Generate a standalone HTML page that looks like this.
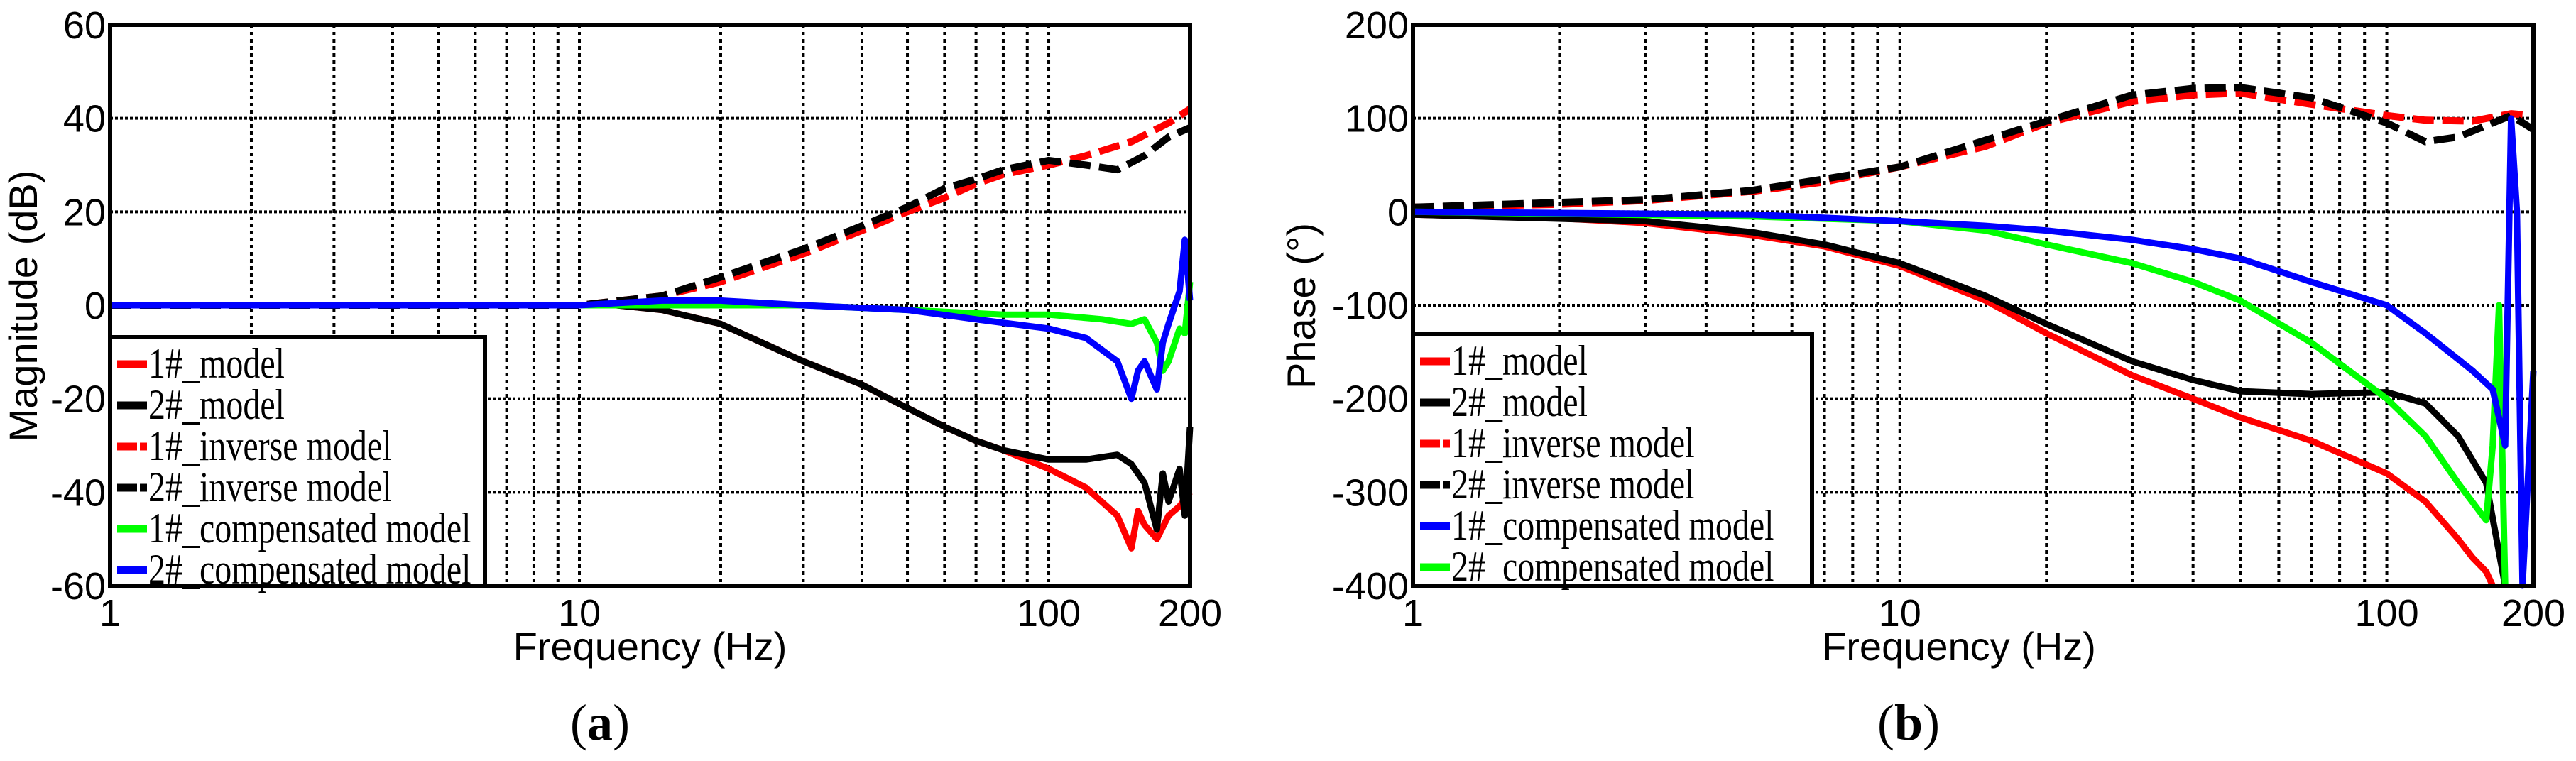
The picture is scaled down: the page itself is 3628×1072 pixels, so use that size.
<!DOCTYPE html>
<html><head><meta charset="utf-8">
<style>
html,body{margin:0;padding:0;background:#fff;}
svg{display:block;}
</style></head>
<body>
<svg id="fig" width="3628" height="1072" viewBox="0 0 3628 1072" xmlns="http://www.w3.org/2000/svg"></svg>
<script>
// ---------- Data ----------
const xTicks = [1, 10, 100, 200];
const xTickLabels = ["1", "10", "100", "200"];
const gridFreqs = [2,3,4,5,6,7,8,9,10,20,30,40,50,60,70,80,90,100];

const magTicks = [-60,-40,-20,0,20,40,60];
const phaseTicks = [-400,-300,-200,-100,0,100,200];

// Magnitude panel (a)
const magModel1F = [1,10,12,15,20,30,40,50,60,70,80,100,120,140,150,155,160,170,180,190,200];
const magModel1V = [0,0,0,-1,-4,-12,-17,-22,-26,-29,-31,-35,-39,-45,-52,-44,-47,-50,-45,-43,-40];
const magModel2F = [1,10,12,15,20,30,40,50,60,70,80,100,120,140,150,160,170,175,180,190,195,200];
const magModel2V = [0,0,0,-1,-4,-12,-17,-22,-26,-29,-31,-33,-33,-32,-34,-38,-48,-36,-42,-35,-45,-26];
const magInv1F = [1,10,15,20,30,40,50,60,70,80,100,120,150,180,200];
const magInv1V = [0,0,2,5,11,16,20,23,26,28,30,32,35,39,42];
const magInv2F = [1,10,15,20,30,40,50,60,70,80,100,120,140,160,180,200];
const magInv2V = [0,0,2,6,12,17,21,25,27,29,31,30,29,32,36,38];
const magComp1F = [1,10,20,30,50,80,100,130,150,160,170,175,180,190,195,200];
const magComp1V = [0,0,0,0,-1,-2,-2,-3,-4,-3,-8,-14,-12,-5,-6,5];
const magComp2F = [1,10,15,20,30,50,70,100,120,140,150,155,160,170,175,180,190,195,200];
const magComp2V = [0,0,1,1,0,-1,-3,-5,-7,-12,-20,-14,-12,-18,-8,-4,3,14,1];

// Phase panel (b)
const phModel1F = [1,2,3,5,7,10,15,20,30,40,50,70,100,120,140,150,160,165];
const phModel1V = [-3,-7,-12,-25,-37,-58,-95,-130,-175,-200,-220,-245,-280,-310,-350,-370,-385,-400];
const phModel2F = [1,3,5,7,10,15,20,30,40,50,70,100,120,140,160,175];
const phModel2V = [-3,-10,-22,-35,-55,-90,-120,-160,-180,-192,-195,-193,-205,-240,-290,-400];
const phInv1F = [1,2,3,5,7,10,15,20,30,40,50,70,100,120,150,180,200];
const phInv1V = [5,8,12,22,32,48,70,95,118,125,127,115,103,98,97,105,103];
const phInv2F = [1,3,5,10,20,30,40,50,70,100,120,140,180,200];
const phInv2V = [5,13,23,48,97,125,132,133,122,95,75,80,103,88];
const phComp1F = [1,5,10,15,20,30,40,50,70,100,120,150,165,175,180,185,190,200];
const phComp1V = [0,-3,-10,-15,-20,-30,-40,-50,-75,-100,-130,-170,-190,-250,100,0,-400,-170];
const phComp2F = [1,5,10,15,20,30,40,50,70,100,120,140,160,165,170,175];
const phComp2V = [0,-5,-10,-20,-35,-55,-75,-95,-140,-200,-240,-290,-330,-250,-100,-400];

// ---------- Drawing ----------
const NS = "http://www.w3.org/2000/svg";
const svg = document.getElementById("fig");
function mk(tag, attrs, parent){
  const e = document.createElementNS(NS, tag);
  for (const k in attrs) e.setAttribute(k, attrs[k]);
  (parent||svg).appendChild(e);
  return e;
}

function panel(cfg){
  const g = mk("g", {});
  
  
  const L=cfg.left, R=cfg.right, T=35, B=825;
  const xs = f => L + Math.log10(f)/Math.log10(200)*(R-L);
  const ys = v => T + (cfg.ymax - v)/(cfg.ymax - cfg.ymin)*(B-T);

  gridFreqs.forEach(f=>{
    const l = mk("line",{x1:xs(f),x2:xs(f),y1:T,y2:B,stroke:"#000","stroke-width":4,"stroke-dasharray":"5 5"},g);
    
    
  });
  cfg.ticks.forEach(v=>{
    if (v===cfg.ymin||v===cfg.ymax) return;
    const l = mk("line",{x1:L,x2:R,y1:ys(v),y2:ys(v),stroke:"#000","stroke-width":4,"stroke-dasharray":"4 3"},g);
    
    
  });

  cfg.series.forEach(s=>{
    const pts = s.f.map((f,i)=>xs(f).toFixed(1)+","+ys(Math.max(cfg.ymin,Math.min(cfg.ymax,s.v[i]))).toFixed(1)).join(" ");
    const p = mk("polyline",{points:pts,fill:"none",stroke:s.color,"stroke-width":s.dash?10:9,"stroke-linejoin":"round","stroke-dasharray":s.dash?"30 12":"none"},g);
    
    
  });

  const lg = mk("g",{},g);
  
  
  mk("rect",{x:L,y:cfg.legTop,width:cfg.legW,height:B-cfg.legTop,fill:"#fff",stroke:"#000","stroke-width":6},lg);
  cfg.legend.forEach((e,i)=>{
    const y = cfg.legTop + 40 + i*58;
    const ent = mk("g",{},lg);
    
    
    mk("line",{x1:L+10,x2:L+52,y1:y-2,y2:y-2,stroke:e.color,"stroke-width":11,"stroke-dasharray":e.dash?"28 4":"none"},ent);
    const t = mk("text",{x:L+54,y:y+17,"font-family":"Liberation Serif, serif","font-size":60,fill:"#000"},ent);
    t.textContent = e.label;
    t.setAttribute("transform",`translate(${L+54},0) scale(0.8,1) translate(${-(L+54)},0)`);
  });

  const fr = mk("rect",{x:L,y:T,width:R-L,height:B-T,fill:"none",stroke:"#000","stroke-width":6},g);
  
  

  cfg.ticks.forEach(v=>{
    const t = mk("text",{x:L-6,y:ys(v)+19,"text-anchor":"end","font-family":"Liberation Sans, sans-serif","font-size":54,fill:"#000"},g);
    t.textContent = String(v);
    
    
  });
  xTicks.forEach((f,i)=>{
    const t = mk("text",{x:xs(f),y:882,"text-anchor":"middle","font-family":"Liberation Sans, sans-serif","font-size":54,fill:"#000"},g);
    t.textContent = xTickLabels[i];
    
    
  });
  const xt = mk("text",{x:(L+R)/2+cfg.xtOff,y:930,"text-anchor":"middle","font-family":"Liberation Sans, sans-serif","font-size":56,fill:"#000"},g);
  xt.textContent = "Frequency (Hz)";
  
  
  const yt = mk("text",{x:0,y:0,"text-anchor":"middle","font-family":"Liberation Sans, sans-serif","font-size":56,fill:"#000",transform:`translate(${cfg.ytX},${cfg.ytY}) rotate(-90)`},g);
  yt.textContent = cfg.ytitle;
  
  
  const cap = mk("text",{x:cfg.capX,y:1042,"text-anchor":"middle","font-family":"Liberation Serif, serif","font-size":72,fill:"#000"},g);
  cap.innerHTML = '(<tspan font-weight="bold">'+cfg.cap+'</tspan>)';
  
  
}

panel({
  name:"magnitude-panel", left:155, right:1676, ymin:-60, ymax:60, ticks:magTicks,
  legTop:475, legW:528, ytitle:"Magnitude (dB)", ytX:52, ytY:431, xtOff:0, capX:845, cap:"a",
  series:[
    {key:"mag-1-model",f:magModel1F,v:magModel1V,color:"#ff0000"},
    {key:"mag-2-model",f:magModel2F,v:magModel2V,color:"#000"},
    {key:"mag-1-inverse",f:magInv1F,v:magInv1V,color:"#ff0000",dash:true},
    {key:"mag-2-inverse",f:magInv2F,v:magInv2V,color:"#000",dash:true},
    {key:"mag-1-compensated",f:magComp1F,v:magComp1V,color:"#00ff00"},
    {key:"mag-2-compensated",f:magComp2F,v:magComp2V,color:"#0000ff"}
  ],
  legend:[
    {label:"1#_model",color:"#ff0000"},
    {label:"2#_model",color:"#000"},
    {label:"1#_inverse model",color:"#ff0000",dash:true},
    {label:"2#_inverse model",color:"#000",dash:true},
    {label:"1#_compensated model",color:"#00ff00"},
    {label:"2#_compensated model",color:"#0000ff"}
  ]
});

panel({
  name:"phase-panel", left:1990, right:3568, ymin:-400, ymax:200, ticks:phaseTicks,
  legTop:471, legW:562, ytitle:"Phase (°)", ytX:1852, ytY:431, xtOff:-20, capX:2688, cap:"b",
  series:[
    {key:"phase-1-model",f:phModel1F,v:phModel1V,color:"#ff0000"},
    {key:"phase-2-model",f:phModel2F,v:phModel2V,color:"#000"},
    {key:"phase-1-inverse",f:phInv1F,v:phInv1V,color:"#ff0000",dash:true},
    {key:"phase-2-inverse",f:phInv2F,v:phInv2V,color:"#000",dash:true},
    {key:"phase-2-compensated",f:phComp2F,v:phComp2V,color:"#00ff00"},
    {key:"phase-1-compensated",f:phComp1F,v:phComp1V,color:"#0000ff"}
  ],
  legend:[
    {label:"1#_model",color:"#ff0000"},
    {label:"2#_model",color:"#000"},
    {label:"1#_inverse model",color:"#ff0000",dash:true},
    {label:"2#_inverse model",color:"#000",dash:true},
    {label:"1#_compensated model",color:"#0000ff"},
    {label:"2#_compensated model",color:"#00ff00"}
  ]
});
</script>
</body></html>
